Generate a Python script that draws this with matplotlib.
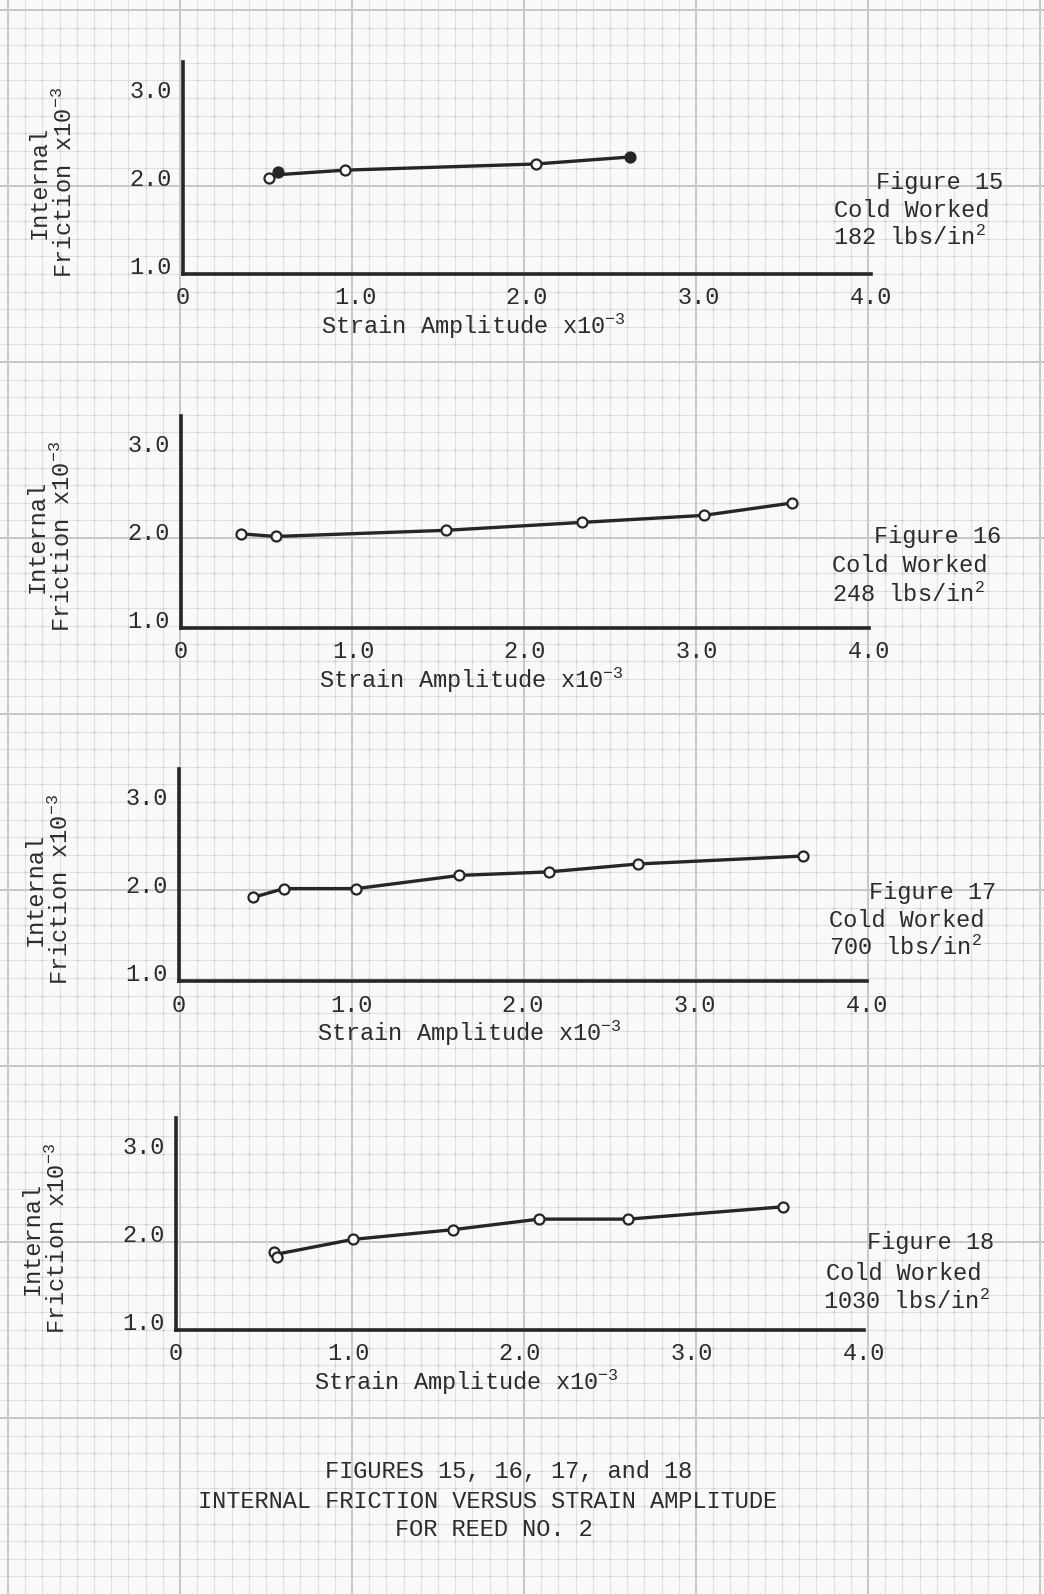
"""
Internal friction vs strain amplitude, reed no. 2 (figures 15-18),
redrawn on graph paper.
"""
import numpy as np
import matplotlib.pyplot as plt

plt.rcParams["font.family"] = ["Liberation Mono", "DejaVu Sans Mono"]
plt.rcParams["mathtext.fontset"] = "custom"
plt.rcParams["mathtext.rm"] = "Liberation Mono"
plt.rcParams["mathtext.default"] = "regular"
plt.rcParams["ytick.alignment"] = "baseline"

# ---- data --------------------------------------------------------------
STRAIN_TICKS = [0, 1.0, 2.0, 3.0, 4.0]
STRAIN_LABELS = ["0", "1.0", "2.0", "3.0", "4.0"]
FRICTION_TICKS = [1.0, 2.0, 3.0]
FRICTION_LABELS = ["1.0", "2.0", "3.0"]

FIGURE_NUMBERS = [15, 16, 17, 18]
COLD_WORK = ["182", "248", "700", "1030"]          # lbs/in^2

FIG15_STRAIN = [0.50, 0.55, 0.94, 2.05, 2.60]
FIG15_FRICTION = [2.09, 2.16, 2.18, 2.25, 2.33]
FIG15_FILLED = [False, True, False, False, True]

FIG16_STRAIN = [0.35, 0.55, 1.54, 2.33, 3.04, 3.55]
FIG16_FRICTION = [2.07, 2.04, 2.11, 2.20, 2.28, 2.42]
FIG16_FILLED = [False] * 6

FIG17_STRAIN = [0.43, 0.61, 1.03, 1.63, 2.15, 2.67, 3.63]
FIG17_FRICTION = [1.95, 2.05, 2.05, 2.20, 2.24, 2.33, 2.42]
FIG17_FILLED = [False] * 7

FIG18_STRAIN = [0.57, 0.59, 1.03, 1.61, 2.11, 2.63, 3.53]
FIG18_FRICTION = [1.89, 1.83, 2.03, 2.14, 2.26, 2.26, 2.40]
FIG18_FILLED = [False] * 7

# curve starts between the first two readings where they were doubled up
PAIRED_START = [True, False, False, True]

# ---- page layout (pixels) ----------------------------------------------
W, H = 1044, 1594
PAPER = "#f9f9f7"
MINOR = "#e2e2df"
MAJOR = "#bfbfbb"
INK = "#262626"
TXT = "#2c2c2c"
FS = 17

X_UNIT, Y_UNIT = 172.0, 88.0          # px per 1.0 on each axis
Y_TOP = 3.41
ORIGINS = [(183, 274), (181, 628), (179, 981), (176, 1330)]
NOTE_POS = [((876, 182), (834, 210), (833, 238)),
            ((874, 537), (832, 566), (832, 595)),
            ((869, 892), (829, 920), (829, 948)),
            ((867, 1243), (826, 1273), (823, 1302))]

fig = plt.figure(figsize=(W / 100, H / 100), dpi=100, facecolor=PAPER)

# graph paper background
bg = fig.add_axes([0, 0, 1, 1])
bg.set_xlim(0, W)
bg.set_ylim(H, 0)
bg.axis("off")
kx = np.arange(-11, 52)
ky = np.arange(-11, 80)
gx = 180 + 17.2 * kx
gy = 186 + 17.6 * ky
bg.vlines(gx[kx % 10 != 0], 0, H, color=MINOR, lw=0.8, zorder=0)
bg.hlines(gy[ky % 10 != 0], 0, W, color=MINOR, lw=0.8, zorder=0)
bg.vlines(gx[kx % 10 == 0], 0, H, color=MAJOR, lw=1.2, zorder=0)
bg.hlines(gy[ky % 10 == 0], 0, W, color=MAJOR, lw=1.2, zorder=0)
mx, my = np.meshgrid(gx, gy)
bg.scatter(mx.ravel(), my.ravel(), marker="+", s=9, lw=0.6,
           color="#cdcdc9", zorder=0)

panels = [
    (FIG15_STRAIN, FIG15_FRICTION, FIG15_FILLED),
    (FIG16_STRAIN, FIG16_FRICTION, FIG16_FILLED),
    (FIG17_STRAIN, FIG17_FRICTION, FIG17_FILLED),
    (FIG18_STRAIN, FIG18_FRICTION, FIG18_FILLED),
]

for i, (sx, fy, filled) in enumerate(panels):
    x0, y0 = ORIGINS[i]
    w = 4.0 * X_UNIT
    h = (Y_TOP - 1.0) * Y_UNIT
    ax = fig.add_axes([x0 / W, 1 - y0 / H, w / W, h / H])
    ax.set_facecolor("none")
    ax.set_xlim(0, 4.0)
    ax.set_ylim(1.0, Y_TOP)
    for side in ("top", "right"):
        ax.spines[side].set_visible(False)
    for side in ("left", "bottom"):
        ax.spines[side].set_linewidth(2.6)
        ax.spines[side].set_color(INK)
        ax.spines[side].set_capstyle("projecting")

    ax.set_xticks(STRAIN_TICKS, STRAIN_LABELS)
    ax.set_yticks(FRICTION_TICKS, FRICTION_LABELS)
    ax.tick_params(length=0, labelsize=FS, colors=TXT)
    ax.tick_params(axis="x", pad=9)
    ax.tick_params(axis="y", pad=8)

    # curve
    if PAIRED_START[i]:
        lx = [np.mean(sx[:2])] + sx[2:]
        ly = [np.mean(fy[:2])] + fy[2:]
    else:
        lx, ly = sx, fy
    ax.plot(lx, ly, color=INK, lw=2.4, solid_joinstyle="round",
            solid_capstyle="round", clip_on=False)
    for x, y, f in zip(sx, fy, filled):
        ax.plot(x, y, "o", ms=7.2, mew=1.6, mec=INK,
                mfc=INK if f else PAPER, clip_on=False, zorder=3)

    ax.set_xlabel("Strain Amplitude x10$^{-3}$", fontsize=FS, color=TXT,
                  va="baseline")
    ax.xaxis.set_label_coords(0.422, -0.285)
    ax.set_ylabel("Internal\nFriction x10$^{-3}$", fontsize=FS, color=TXT,
                  va="center", ha="center", multialignment="center",
                  linespacing=1.1)
    ax.yaxis.set_label_coords(-0.19, 0.43)

    p_fig, p_cold, p_lbs = NOTE_POS[i]
    bg.text(*p_fig, f"Figure {FIGURE_NUMBERS[i]}", fontsize=FS, color=TXT,
            ha="left", va="center")
    bg.text(*p_cold, "Cold Worked", fontsize=FS, color=TXT,
            ha="left", va="center")
    bg.text(*p_lbs, f"{COLD_WORK[i]} lbs/in$^{{2}}$", fontsize=FS, color=TXT,
            ha="left", va="center")

bg.text(509, 1472, "FIGURES 15, 16, 17, and 18", fontsize=FS, color=TXT,
        ha="center", va="center")
bg.text(488, 1501, "INTERNAL FRICTION VERSUS STRAIN AMPLITUDE", fontsize=FS,
        color=TXT, ha="center", va="center")
bg.text(494, 1530, "FOR REED NO. 2", fontsize=FS, color=TXT,
        ha="center", va="center")

fig.savefig("out.png", dpi=100, facecolor=PAPER)
